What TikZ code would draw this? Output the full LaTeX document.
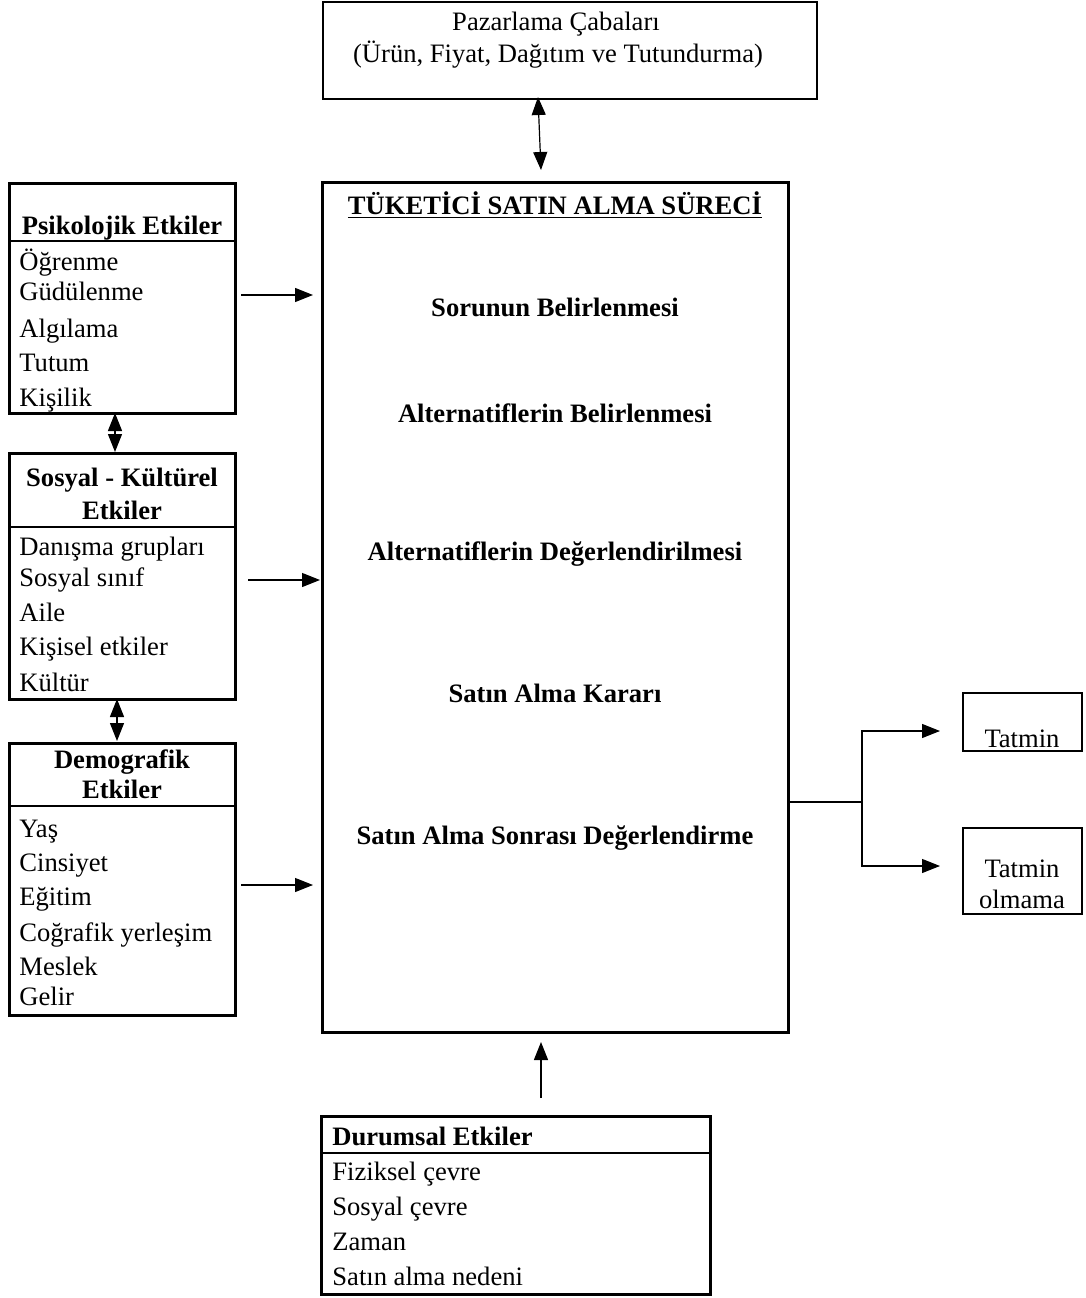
\documentclass[tikz,border=0pt]{standalone}
\usepackage{fontspec}
\setmainfont{Liberation Serif}
\usetikzlibrary{arrows.meta,fit}
\begin{document}
\begin{tikzpicture}[x=0.5pt,y=-0.5pt,
  font=\fontsize{13.3}{16}\selectfont,
  box/.style={draw, line width=1.5pt, inner sep=0pt},
  thinbox/.style={draw, line width=1pt, inner sep=0pt},
  divider/.style={line width=1pt},
  arr/.style={line width=0.6pt, -{Triangle[length=9pt,width=7pt]}},
  darr/.style={line width=0.6pt, {Triangle[length=9pt,width=7pt]}-{Triangle[length=9pt,width=7pt]}},
  item/.style={anchor=mid west, inner sep=0pt, yshift=-2pt},
  ctext/.style={anchor=mid, inner sep=0pt, yshift=-2pt},
  head/.style={anchor=mid, inner sep=0pt, yshift=-2pt, font=\fontsize{13.3}{16}\selectfont\bfseries},
  lhead/.style={anchor=mid west, inner sep=0pt, yshift=-2pt, font=\fontsize{13.3}{16}\selectfont\bfseries},
]
\useasboundingbox[fill=white] (0,0) rectangle (1086,1298);

% --- boxes ---
\node[thinbox, fit={(323,2) (817,99)}] (pz) {};
\node[box, fit={(322,182) (788,1032)}] (main) {};
\node[box, fit={(9,183) (235,413)}] (psy) {};
\node[box, fit={(9,453) (235,699)}] (soc) {};
\node[box, fit={(9,743) (235,1015)}] (dem) {};
\node[box, fit={(321,1116) (710,1294)}] (dur) {};
\node[thinbox, fit={(963,693) (1082,751)}] (tat) {};
\node[thinbox, fit={(963,828) (1082,914)}] (tol) {};

% --- header dividers ---
\draw[divider] (9,241) -- (235,241);
\draw[divider] (9,527) -- (235,527);
\draw[divider] (9,806) -- (235,806);
\draw[divider] (321,1153) -- (710,1153);

% --- marketing efforts ---
\node[ctext] (pz1) at (556,22) {Pazarlama Çabaları};
\node[ctext] (pz2) at (558,54) {(Ürün, Fiyat, Dağıtım ve Tutundurma)};

% --- purchase process ---
\node[head] (title) at (555,206) {\underline{TÜKETİCİ SATIN ALMA SÜRECİ}};
\node[head] (s1) at (555,308) {Sorunun Belirlenmesi};
\node[head] (s2) at (555,414) {Alternatiflerin Belirlenmesi};
\node[head] (s3) at (555,552) {Alternatiflerin Değerlendirilmesi};
\node[head] (s4) at (555,694) {Satın Alma Kararı};
\node[head] (s5) at (555,836) {Satın Alma Sonrası Değerlendirme};

% --- psychological ---
\node[head] (psyh) at (122,226) {Psikolojik Etkiler};
\node[item] (p1) at (19,262) {Öğrenme};
\node[item] (p2) at (19,292) {Güdülenme};
\node[item] (p3) at (19,329) {Algılama};
\node[item] (p4) at (19,363) {Tutum};
\node[item] (p5) at (19,398) {Kişilik};

% --- socio-cultural ---
\node[head] (soch1) at (122,478) {Sosyal - Kültürel};
\node[head] (soch2) at (122,511) {Etkiler};
\node[item] (c1) at (19,547) {Danışma grupları};
\node[item] (c2) at (19,578) {Sosyal sınıf};
\node[item] (c3) at (19,613) {Aile};
\node[item] (c4) at (19,647) {Kişisel etkiler};
\node[item] (c5) at (19,683) {Kültür};

% --- demographic ---
\node[head] (demh1) at (122,760) {Demografik};
\node[head] (demh2) at (122,790) {Etkiler};
\node[item] (d1) at (19,829) {Yaş};
\node[item] (d2) at (19,863) {Cinsiyet};
\node[item] (d3) at (19,897) {Eğitim};
\node[item] (d4) at (19,933) {Coğrafik yerleşim};
\node[item] (d5) at (19,967) {Meslek};
\node[item] (d6) at (19,997) {Gelir};

% --- situational ---
\node[lhead] (durh) at (332,1137) {Durumsal Etkiler};
\node[item] (u1) at (332,1172) {Fiziksel çevre};
\node[item] (u2) at (332,1207) {Sosyal çevre};
\node[item] (u3) at (332,1242) {Zaman};
\node[item] (u4) at (332,1277) {Satın alma nedeni};

% --- outcomes ---
\node[ctext] (t1) at (1022,739) {Tatmin};
\node[ctext] (t2a) at (1022,869) {Tatmin};
\node[ctext] (t2b) at (1022,900) {olmama};

% --- connectors ---
\coordinate (pzA) at (538,97);
\coordinate (mainA) at (541,170);
\draw[darr] (pzA) -- (mainA);

\coordinate (psyA) at (241,295);
\coordinate (psyB) at (313,295);
\draw[arr] (psyA) -- (psyB);
\coordinate (socA) at (248,580);
\coordinate (socB) at (320,580);
\draw[arr] (socA) -- (socB);
\coordinate (demA) at (241,885);
\coordinate (demB) at (313,885);
\draw[arr] (demA) -- (demB);

\draw[darr] (115,413) -- (115,452);
\draw[darr] (117,699) -- (117,741);

\coordinate (durA) at (541,1098);
\coordinate (durB) at (541,1042);
\draw[arr] (durA) -- (durB);

\coordinate (split) at (862,802);
\coordinate (tatA) at (940,731);
\coordinate (tolA) at (940,866);
\draw[line width=0.6pt] (main.east |- split) -- (split);
\draw[arr] (split) |- (tatA);
\draw[arr] (split) |- (tolA);
\end{tikzpicture}
\end{document}
